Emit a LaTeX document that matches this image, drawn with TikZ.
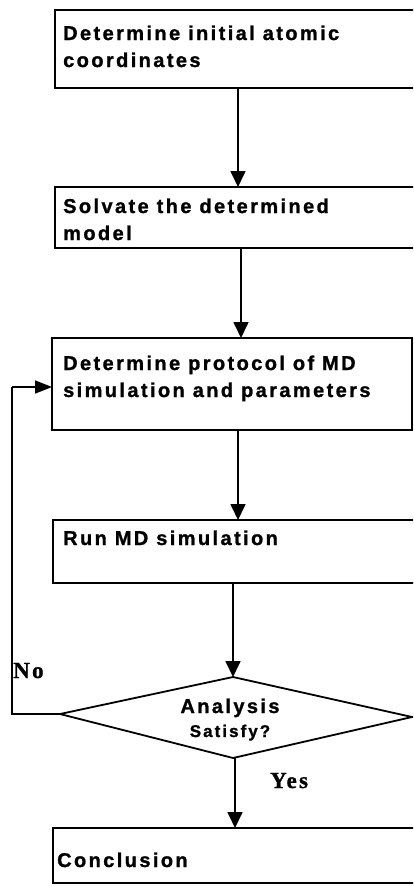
\documentclass[tikz,border=0pt]{standalone}
\usepackage{fontspec}
\setmainfont{Liberation Sans}
\newfontfamily\boxfont[LetterSpace=12,BoldFeatures={FakeBold=1.2}]{Liberation Sans}
\newfontfamily\ynfont[LetterSpace=10,BoldFeatures={FakeBold=1}]{Liberation Serif}
\usetikzlibrary{arrows.meta}
\begin{document}
\begin{tikzpicture}[x=1pt,y=-1pt,
  boxshape/.style={draw=black, line width=1.8pt, inner sep=0pt, outer sep=0pt, anchor=north west},
  boxtext/.style={anchor=base west, align=left, inner sep=0pt, font=\boxfont\bfseries\fontsize{20}{27}\selectfont},
  yntext/.style={anchor=base west, inner sep=0pt, font=\ynfont\bfseries\fontsize{23}{26}\selectfont},
  arr/.style={line width=1.7pt, -{Triangle[width=15pt,length=16pt]}},
  loopline/.style={line width=1.7pt}]
\useasboundingbox (0,0) rectangle (413,886);
\clip (0,0) rectangle (413,886);
% boxes
\node[boxshape, minimum width=380pt, minimum height=78pt] (b1) at (55,10) {};
\node[boxshape, minimum width=380pt, minimum height=61pt] (b2) at (55,187) {};
\node[boxshape, minimum width=360pt, minimum height=92pt] (b3) at (52,338) {};
\node[boxshape, minimum width=382pt, minimum height=63pt] (b4) at (53,520) {};
\node[boxshape, minimum width=382pt, minimum height=55pt] (b5) at (53,828) {};
% texts (anchor = baseline of last line)
\node[boxtext] (t1) at (63,67) {Determine initial atomic\\coordinates};
\node[boxtext] (t2) at (63,240) {Solvate the determined\\model};
\node[boxtext] (t3) at (63,397) {Determine protocol of MD\\simulation and parameters};
\node[boxtext] (t4) at (63,545) {Run MD simulation};
\node[boxtext] (t5) at (57,867) {Conclusion};
% diamond
\coordinate (dt) at (233,677);
\coordinate (dl) at (60,714);
\coordinate (dr) at (412,717);
\coordinate (db) at (233,758);
\draw[line width=1.8pt, line join=miter] (dt) -- (dr) -- (db) -- (dl) -- cycle;
\node[anchor=base, inner sep=0pt, font=\boxfont\bfseries\fontsize{20}{22}\selectfont] (an) at (230,713) {Analysis};
\node[anchor=base, inner sep=0pt, font=\boxfont\bfseries\fontsize{17}{18}\selectfont] (sa) at (230,737) {Satisfy?};
% yes / no
\node[yntext] (no) at (13,678) {No};
\node[yntext] (yes) at (270,788) {Yes};
% connector x positions
\coordinate (x1) at (238,0);
\coordinate (x2) at (241,0);
\coordinate (x3) at (238,0);
\coordinate (x5) at (235,0);
\coordinate (lp) at (12,387);
\draw[arr] (b1.south -| x1) -- (b2.north -| x1);
\draw[arr] (b2.south -| x2) -- (b3.north -| x2);
\draw[arr] (b3.south -| x3) -- (b4.north -| x3);
\draw[arr] (b4.south -| dt) -- (dt);
\draw[arr] (db -| x5) -- (b5.north -| x5);
\draw[loopline] (dl) -| (lp);
\draw[line width=1.7pt, -{Triangle[width=13pt,length=17pt]}] (lp) -- (b3.west |- lp);
\end{tikzpicture}
\end{document}
